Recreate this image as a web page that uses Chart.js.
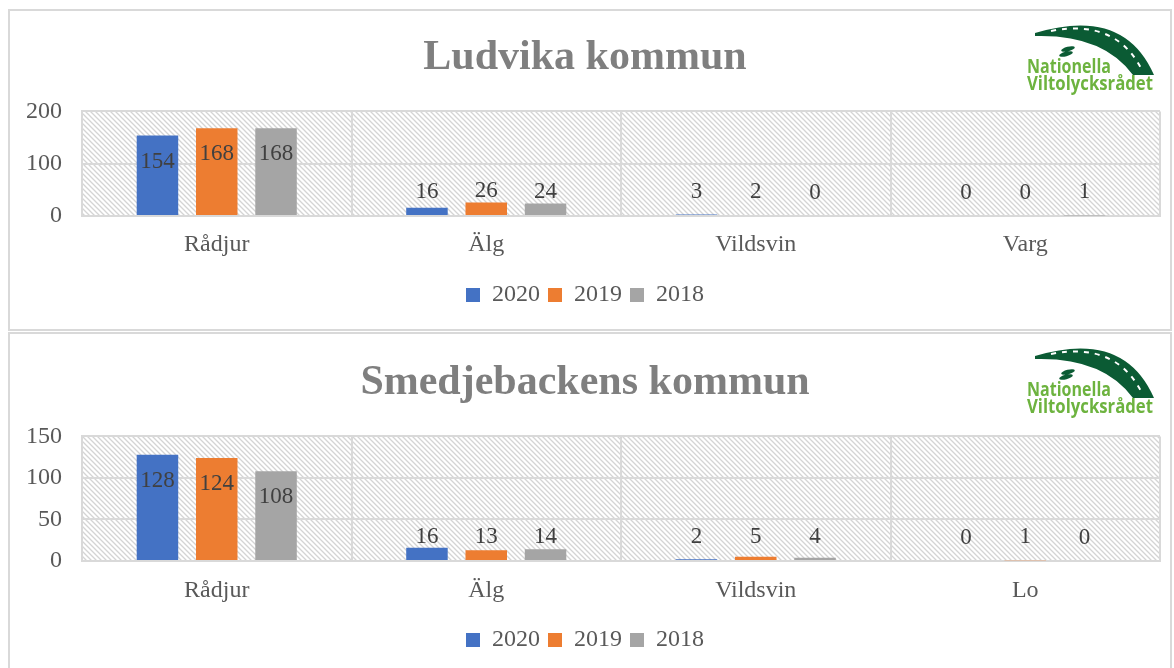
<!DOCTYPE html>
<html>
<head>
<meta charset="utf-8">
<script src="https://cdn.jsdelivr.net/npm/chart.js@4"></script>
<style>
  html, body { margin: 0; padding: 0; background: #fff; }
  body { width: 1174px; height: 668px; position: relative; overflow: hidden; }
  .panel { position: absolute; box-sizing: border-box; border: 2px solid #d9d9d9; background: #fff; }
  #panel1 { left: 8px; top: 9px; width: 1164px; height: 322px; }
  #panel2 { left: 8px; top: 332px; width: 1164px; height: 345px; }
  canvas { position: absolute; }
  #ludvikaChart { left: 10px; top: 11px; }
  #smedjeChart { left: 10px; top: 334px; }
</style>
</head>
<body>
<div class="panel" id="panel1"></div>
<div class="panel" id="panel2"></div>
<canvas id="ludvikaChart" width="1160" height="318" style="width:1160px;height:318px"></canvas>
<canvas id="smedjeChart" width="1160" height="334" style="width:1160px;height:334px"></canvas>
<script>
// Series labels and colours (Excel defaults)
const years = ['2020', '2019', '2018'];
const yearColors = ['#4472c4', '#ed7d31', '#a5a5a5'];

// Ludvika kommun
const ludvikaCategories = ['Rådjur', 'Älg', 'Vildsvin', 'Varg'];
const ludvika2020 = [154, 16, 3, 0];
const ludvika2019 = [168, 26, 2, 0];
const ludvika2018 = [168, 24, 0, 1];

// Smedjebackens kommun
const smedjeCategories = ['Rådjur', 'Älg', 'Vildsvin', 'Lo'];
const smedje2020 = [128, 16, 2, 0];
const smedje2019 = [124, 13, 5, 1];
const smedje2018 = [108, 14, 4, 0];

const FONT = "'Liberation Serif', 'Times New Roman', serif";
const TEXT = '#595959';
const GRID = '#d9d9d9';

// Light diagonal hatch used as plot background
function makeHatch() {
    const c = document.createElement('canvas');
    c.width = 5; c.height = 5;
    const g = c.getContext('2d');
    g.fillStyle = '#ffffff';
    g.fillRect(0, 0, 5, 5);
    g.strokeStyle = '#d4d4d4';
    g.lineWidth = 1.3;
    g.beginPath();
    g.moveTo(-1, -1); g.lineTo(6, 6);
    g.moveTo(-1, 4); g.lineTo(1, 6);
    g.moveTo(4, -1); g.lineTo(6, 1);
    g.stroke();
    return g.createPattern(c, 'repeat');
}
const hatch = makeHatch();

const hatchPlugin = {
    id: 'hatchBg',
    beforeDraw(chart) {
        const { ctx, chartArea: a } = chart;
        ctx.save();
        ctx.fillStyle = hatch;
        ctx.fillRect(a.left, a.top, a.right - a.left, a.bottom - a.top);
        ctx.restore();
    }
};

// Value labels: above the bar, or inside the end when there is no room
const valueLabels = {
    id: 'valueLabels',
    afterDatasetsDraw(chart) {
        const { ctx, chartArea: a } = chart;
        ctx.save();
        ctx.font = '23px ' + FONT;
        ctx.fillStyle = '#404040';
        ctx.textAlign = 'center';
        ctx.textBaseline = 'middle';
        chart.data.datasets.forEach((ds, i) => {
            chart.getDatasetMeta(i).data.forEach((bar, j) => {
                let y;
                if (bar.y - 40 < a.top) y = bar.y + 26;
                else y = Math.min(bar.y - 11, bar.base - 23);
                ctx.fillText(String(ds.data[j]), bar.x, y);
            });
        });
        ctx.restore();
    }
};

// Nationella Viltolycksrådet logo, top right of each panel
function drawLogo(ctx, x, y) {
    ctx.save();
    ctx.translate(x, y);
    ctx.fillStyle = '#0b5b34';
    ctx.beginPath();
    ctx.moveTo(8, 11);
    ctx.quadraticCurveTo(97, -16, 127, 53);
    ctx.lineTo(106, 53);
    ctx.quadraticCurveTo(76, 12, 8, 14);
    ctx.closePath();
    ctx.fill();
    // lane dashes
    ctx.strokeStyle = '#ffffff';
    ctx.lineWidth = 2;
    ctx.setLineDash([5, 6]);
    ctx.beginPath();
    ctx.moveTo(24, 9);
    ctx.quadraticCurveTo(90, -4, 116, 50);
    ctx.stroke();
    ctx.setLineDash([]);
    // small leaf marks
    ctx.beginPath();
    ctx.ellipse(41, 27, 7, 2.3, -0.25, 0, Math.PI * 2);
    ctx.ellipse(39, 32, 7, 2.3, -0.25, 0, Math.PI * 2);
    ctx.fill();
    // text
    ctx.fillStyle = '#6db33f';
    ctx.font = "bold 19px 'Open Sans', 'DejaVu Sans', sans-serif";
    ctx.textBaseline = 'alphabetic';
    ctx.fillText('Nationella', 0, 51, 84);
    ctx.fillText('Viltolycksrådet', 0, 68, 126);
    ctx.restore();
}

const logoPlugin = {
    id: 'logo',
    afterDraw(chart) {
        drawLogo(chart.ctx, 1017, 11);
    }
};

function buildChart(canvasId, titleText, categories, series, yMax, yStep, lay) {
    return new Chart(document.getElementById(canvasId), {
        type: 'bar',
        data: {
            labels: categories,
            datasets: series.map((values, i) => ({
                label: years[i],
                data: values,
                backgroundColor: yearColors[i],
                borderWidth: 0,
                categoryPercentage: 0.66,
                barPercentage: 0.7
            }))
        },
        options: {
            responsive: false,
            animation: false,
            layout: { padding: { left: 0, right: 10, top: 0, bottom: lay.bottomPad } },
            plugins: {
                title: {
                    display: true,
                    text: titleText,
                    color: '#7f7f7f',
                    font: { family: FONT, size: 42, weight: 'bold' },
                    padding: { top: lay.titleTop, bottom: lay.titleBottom }
                },
                legend: {
                    position: 'bottom',
                    labels: {
                        color: TEXT,
                        font: { family: FONT, size: 24 },
                        boxWidth: 14,
                        boxHeight: 14,
                        padding: 8
                    }
                },
                tooltip: { enabled: false }
            },
            scales: {
                x: {
                    grid: { color: GRID, lineWidth: 2, drawTicks: false },
                    border: { color: GRID, width: 2 },
                    ticks: { color: TEXT, font: { family: FONT, size: 24 }, padding: lay.xPad },
                    afterFit(scale) { scale.height = 59; }
                },
                y: {
                    min: 0,
                    max: yMax,
                    grid: { color: GRID, lineWidth: 2, drawTicks: false },
                    border: { color: GRID, width: 2 },
                    ticks: { stepSize: yStep, color: TEXT, font: { family: FONT, size: 24 }, padding: 20 },
                    afterFit(scale) { scale.width = 72; }
                }
            }
        },
        plugins: [hatchPlugin, valueLabels, logoPlugin]
    });
}

buildChart('ludvikaChart', 'Ludvika kommun', ludvikaCategories,
    [ludvika2020, ludvika2019, ludvika2018], 200, 100,
    { titleTop: 22, titleBottom: 28, bottomPad: 12, xPad: 14 });

buildChart('smedjeChart', 'Smedjebackens kommun', smedjeCategories,
    [smedje2020, smedje2019, smedje2018], 150, 50,
    { titleTop: 24, titleBottom: 28, bottomPad: 6, xPad: 15 });
</script>
</body>
</html>
